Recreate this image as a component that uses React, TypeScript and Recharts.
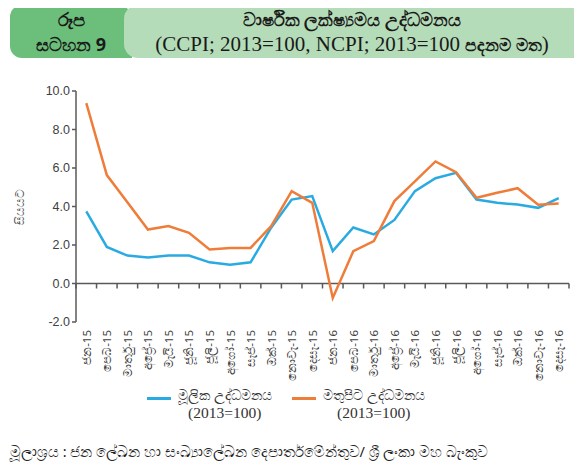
import React from "react";
import { LineChart, Line, XAxis, YAxis, ReferenceLine } from "recharts";

const months = [
  "ජන-15", "පෙබ-15", "මාර්තු-15", "අප්‍රේ-15", "මැයි-15", "ජූනි-15",
  "ජූලි-15", "අගෝ-15", "සැප්-15", "ඔක්-15", "නොවැ-15", "දෙසැ-15",
  "ජන-16", "පෙබ-16", "මාර්තු-16", "අප්‍රේ-16", "මැයි-16", "ජූනි-16",
  "ජූලි-16", "අගෝ-16", "සැප්-16", "ඔක්-16", "නොවැ-16", "දෙසැ-16",
];
const coreInflation = [
  3.75, 1.9, 1.45, 1.35, 1.45, 1.45, 1.1, 0.97, 1.1, 2.9, 4.36, 4.54,
  1.68, 2.91, 2.55, 3.3, 4.8, 5.47, 5.75, 4.36, 4.19, 4.1, 3.93, 4.43,
];
const headlineInflation = [
  9.37, 5.63, 4.22, 2.8, 2.98, 2.63, 1.77, 1.85, 1.85, 2.98, 4.8, 4.19,
  -0.75, 1.68, 2.2, 4.28, 5.31, 6.34, 5.78, 4.45, 4.71, 4.95, 4.09, 4.16,
];
const yTicks = [-2, 0, 2, 4, 6, 8, 10];

const seriesNames = ["මූලික උද්ධමනය", "මතුපිට උද්ධමනය"];
const BLUE = "#29abe2";
const ORANGE = "#ef7d3a";
const AXIS = "#595959";
const seriesColors = [BLUE, ORANGE];

const data = months.map((m, i) => ({
  month: m,
  core: coreInflation[i],
  headline: headlineInflation[i],
}));

const XTick = (props: any) => {
  const { x, y, payload } = props;
  return (
    <text
      x={x}
      y={y}
      transform={`rotate(-90 ${x} ${y})`}
      textAnchor="end"
      dominantBaseline="central"
      fontSize={11.5}
      fill="#404040"
      fontFamily="'Noto Sans', 'DejaVu Sans', sans-serif"
    >
      {payload.value}
    </text>
  );
};

const ZeroAxis = (props: any) => {
  const { x1, y1, x2 } = props;
  const n = months.length;
  const step = (x2 - x1) / n;
  const ticks = [];
  for (let i = 0; i <= n; i++) {
    const tx = x1 + i * step;
    ticks.push(<line key={i} x1={tx} x2={tx} y1={y1} y2={y1 + 5} stroke={AXIS} strokeWidth={1.5} />);
  }
  return (
    <g>
      <line x1={x1} x2={x2} y1={y1} y2={y1} stroke={AXIS} strokeWidth={1.5} />
      {ticks}
    </g>
  );
};

const legendLefts = [147, 292];

export default function App() {
  return (
    <div style={{ position: "relative", width: 582, height: 470, margin: -8, background: "#fff", overflow: "hidden" }}>
      <div
        style={{
          position: "absolute", left: 10, top: 5, width: 122, height: 53,
          background: "#6cbf7a", borderRadius: "12px 14px 0 12px",
          display: "flex", flexDirection: "column", alignItems: "center", justifyContent: "center",
          fontFamily: "'Noto Sans', sans-serif", fontWeight: 700, fontSize: 18, color: "#1a1a1a", lineHeight: "25px",
        }}
      >
        <div>රූප</div>
        <div>සටහන 9</div>
      </div>
      <div
        style={{
          position: "absolute", left: 124, top: 5, width: 456, height: 53,
          background: "#b5dcb8", borderRadius: "14px 16px 0 14px",
          display: "flex", flexDirection: "column", alignItems: "center", justifyContent: "center",
          color: "#1a1a1a", lineHeight: "25px",
        }}
      >
        <div style={{ fontFamily: "'Noto Sans', sans-serif", fontWeight: 700, fontSize: 18 }}>වාර්ෂික ලක්ෂ්‍යමය උද්ධමනය</div>
        <div style={{ fontFamily: "'Liberation Serif', serif", fontSize: 21, whiteSpace: "nowrap" }}>
          (CCPI; 2013=100, NCPI; 2013=100 <b style={{ fontFamily: "'Noto Sans', sans-serif", fontSize: 17 }}>පදනම මත</b>)
        </div>
      </div>

      <div style={{ position: "absolute", left: 0, top: 0 }}>
        <LineChart width={582} height={470} data={data} margin={{ top: 91, right: 13, bottom: 108, left: 16 }}>
          <XAxis
            dataKey="month"
            interval={0}
            axisLine={false}
            tickLine={false}
            tick={<XTick />}
            height={40}
            tickMargin={2}
            padding={{ left: 10.3, right: 10.3 }}
          />
          <YAxis
            domain={[-2, 10]}
            ticks={yTicks}
            width={60}
            interval={0}
            tickFormatter={(v: number) => v.toFixed(1)}
            axisLine={{ stroke: AXIS, strokeWidth: 1.5 }}
            tickLine={{ stroke: AXIS, strokeWidth: 1.5 }}
            tickSize={4}
            tick={{ fill: "#404040", fontSize: 12.5, fontFamily: "'Liberation Sans', Arial, sans-serif" }}
            label={{
              value: "සියයට",
              angle: -90,
              position: "insideLeft",
              offset: 4,
              style: { fontSize: 12, fill: "#555", fontFamily: "'Noto Sans', sans-serif", textAnchor: "middle" },
            }}
          />
          <ReferenceLine y={0} shape={<ZeroAxis />} />
          <Line dataKey="core" name={seriesNames[0]} stroke={BLUE} strokeWidth={2.5} dot={false} isAnimationActive={false} />
          <Line dataKey="headline" name={seriesNames[1]} stroke={ORANGE} strokeWidth={2.5} dot={false} isAnimationActive={false} />
        </LineChart>
      </div>

      {seriesNames.map((name, i) => (
        <div key={i} style={{ position: "absolute", left: legendLefts[i], top: 387, display: "flex", alignItems: "flex-start" }}>
          <div style={{ width: 24, height: 2.5, background: seriesColors[i], marginTop: 10, marginRight: 7 }} />
          <div style={{ textAlign: "center", color: "#333", lineHeight: "17px" }}>
            <div style={{ fontSize: 13.5, fontFamily: "'Noto Sans', sans-serif", whiteSpace: "nowrap" }}>{name}</div>
            <div style={{ fontSize: 15.5, fontFamily: "'Liberation Serif', serif" }}>(2013=100)</div>
          </div>
        </div>
      ))}

      <div
        style={{
          position: "absolute", left: 10, top: 441, fontSize: 14.5, color: "#222",
          fontFamily: "'Noto Sans', sans-serif", whiteSpace: "nowrap",
        }}
      >
        මූලාශ්‍රය : ජන ලේඛන හා සංඛ්‍යාලේඛන දෙපාර්තමේන්තුව/ ශ්‍රී ලංකා මහ බැංකුව
      </div>
      <div style={{ position: "absolute", left: 10, top: 466, width: 572, height: 2, background: "#7cc47f" }} />
    </div>
  );
}
